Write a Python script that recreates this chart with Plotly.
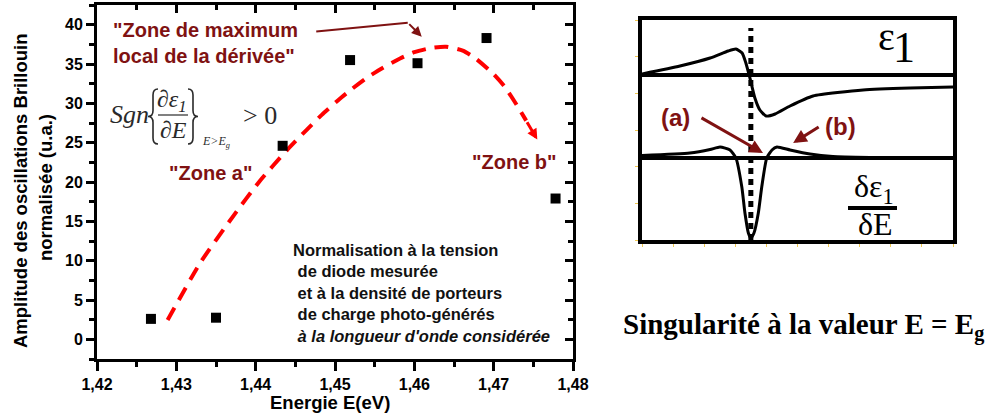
import plotly.graph_objects as go

W, H = 987, 419
SANS = "Liberation Sans, Arial, sans-serif"
SERIF = "Liberation Serif, Times New Roman, serif"
DARKRED = "#7f1212"

# mesures : énergie (eV) et amplitude normalisée (u.a.)
energy = [1.4268, 1.4350, 1.4434, 1.4519, 1.4604, 1.4691, 1.4778]
amplitude = [2.6, 2.75, 24.6, 35.5, 35.1, 38.3, 17.9]

# courbe guide rouge en pointillés
guide_e = [1.4289, 1.4330, 1.4372, 1.4405, 1.4439, 1.4464, 1.4483, 1.4504, 1.4521,
           1.4541, 1.4560, 1.4582, 1.4600, 1.4622, 1.4640, 1.4661, 1.4676, 1.4699,
           1.4714, 1.4729, 1.4741]
guide_a = [2.45, 9.7, 15.7, 20.1, 24.0, 26.6, 28.5, 30.4, 31.8, 33.3, 34.5, 35.7,
           36.5, 37.05, 37.2, 36.7, 35.8, 33.8, 32.1, 29.8, 27.8]
guide_tip = (1.4755, 25.4)

x_range = [1.42, 1.48]
y_range = [-2.5, 42.5]

# schéma de droite (unités arbitraires)
E_G = 3.5
EPS1_ZERO = 16.5
DERIV_ZERO = 8.2
eg_line_v = [0, 21.2]
eps1_e = [0, 1.22, 2.19, 2.77, 3.02, 3.22, 3.34, 3.47, 3.63, 3.79, 3.99, 4.28, 4.76,
          5.50, 7.11, 8.62, 10]
eps1_v = [16.6, 17.4, 18.2, 18.9, 19.1, 18.7, 17.7, 16.2, 14.2, 13.0, 12.4, 12.6,
          13.4, 14.4, 15.0, 15.2, 15.3]
deriv_e = [0, 1.54, 2.19, 2.51, 2.83, 3.02, 3.21, 3.31, 3.42, 3.50, 3.60, 3.74, 3.85,
           4.01, 4.18, 4.34, 4.76, 5.40, 6.14, 7.33]
deriv_v = [8.45, 8.7, 9.05, 9.3, 9.0, 8.2, 5.3, 2.7, 0.7, 0.2, 0.7, 2.7, 5.3, 8.2,
           9.0, 9.3, 9.0, 8.6, 8.35, 8.25]


def px(x):
    return x / W


def py(y):
    return 1 - y / H


def lx(p):  # pixel -> energie (graphe de gauche)
    return 1.42 + (p - 97) / 7940


def ly(p):
    return (340 - p) / 7.875


fig = go.Figure()

# --- graphe de gauche
fig.add_trace(go.Scatter(
    x=guide_e, y=guide_a, mode='lines',
    line=dict(color='#ff0000', width=4, dash='14px,9px', shape='spline', smoothing=0.6),
    hoverinfo='skip',
))
fig.add_trace(go.Scatter(
    x=energy, y=amplitude, mode='markers',
    marker=dict(symbol='square', size=10, color='black'),
))
fig.add_trace(go.Scatter(x=[], y=[], xaxis='x2', yaxis='y2'))

# --- schéma de droite
for base in [EPS1_ZERO, DERIV_ZERO]:
    fig.add_trace(go.Scatter(
        x=[0, 10], y=[base, base], mode='lines',
        line=dict(color='black', width=4), xaxis='x3', yaxis='y3',
    ))
fig.add_trace(go.Scatter(
    x=eps1_e, y=eps1_v, mode='lines',
    line=dict(color='black', width=3, shape='spline', smoothing=0.5),
    xaxis='x3', yaxis='y3',
))
fig.add_trace(go.Scatter(
    x=deriv_e, y=deriv_v, mode='lines',
    line=dict(color='black', width=3, shape='spline', smoothing=0.5),
    xaxis='x3', yaxis='y3',
))
fig.add_trace(go.Scatter(
    x=[E_G, E_G], y=eg_line_v, mode='lines',
    line=dict(color='black', width=5, dash='6px,5px'),
    xaxis='x3', yaxis='y3',
))

tickfont = dict(family=SANS, size=16, color='black', weight='bold')
left_dom_x = [px(97), px(573)]
left_dom_y = [py(359), py(5)]

fig.update_layout(
    width=W, height=H,
    margin=dict(l=0, r=0, t=0, b=0, autoexpand=False),
    paper_bgcolor='white', plot_bgcolor='white',
    showlegend=False,
    separators=', ',
    xaxis=dict(
        domain=left_dom_x, range=x_range, anchor='y',
        tickmode='linear', tick0=1.42, dtick=0.01, tickformat='.2f',
        ticks='outside', ticklen=9, tickwidth=2.5, tickcolor='black',
        minor=dict(dtick=0.005, tick0=1.42, ticks='outside', ticklen=5,
                   tickwidth=2.5, tickcolor='black'),
        showline=True, linewidth=3, linecolor='black', showgrid=False,
        zeroline=False, tickfont=tickfont,
    ),
    yaxis=dict(
        domain=left_dom_y, range=y_range, anchor='x',
        tickmode='linear', tick0=0, dtick=5,
        ticks='outside', ticklen=8, tickwidth=2.5, tickcolor='black',
        minor=dict(dtick=2.5, tick0=0, ticks='outside', ticklen=5,
                   tickwidth=2.5, tickcolor='black'),
        showline=True, linewidth=3, linecolor='black', showgrid=False,
        zeroline=False, tickfont=tickfont,
    ),
    xaxis2=dict(
        domain=left_dom_x, range=x_range, anchor='y2', overlaying='x', side='top',
        tickmode='linear', tick0=1.42, dtick=0.01, showticklabels=False,
        ticks='inside', ticklen=8, tickwidth=2.5, tickcolor='black',
        minor=dict(dtick=0.005, tick0=1.42, ticks='inside', ticklen=5,
                   tickwidth=2.5, tickcolor='black'),
        showline=True, linewidth=3, linecolor='black', showgrid=False, zeroline=False,
    ),
    yaxis2=dict(
        domain=left_dom_y, range=y_range, anchor='x2', overlaying='y', side='right',
        tickmode='linear', tick0=0, dtick=5, showticklabels=False,
        ticks='inside', ticklen=8, tickwidth=2.5, tickcolor='black',
        minor=dict(dtick=2.5, tick0=0, ticks='inside', ticklen=5,
                   tickwidth=2.5, tickcolor='black'),
        showline=True, linewidth=3, linecolor='black', showgrid=False, zeroline=False,
    ),
    xaxis3=dict(
        domain=[px(642), px(953)], range=[0, 10], anchor='y3',
        tickmode='linear', tick0=0, dtick=1, ticks='outside', ticklen=3,
        tickwidth=1, tickcolor='#f0c850', showticklabels=False,
        showline=True, mirror=True, linewidth=4, linecolor='black',
        showgrid=False, zeroline=False,
    ),
    yaxis3=dict(
        domain=[py(240), py(20)], range=[0, 22], anchor='x3',
        tickmode='linear', tick0=0, dtick=22 / 6, ticks='outside', ticklen=3,
        tickwidth=1, tickcolor='#f0c850', showticklabels=False,
        showline=True, mirror=True, linewidth=4, linecolor='black',
        showgrid=False, zeroline=False,
    ),
)

ann = []


def text(x, y, t, size, family=SANS, color='black', bold=False, italic=False,
         xanchor='center', yanchor='middle', align='center', angle=0):
    ann.append(dict(
        x=px(x), y=py(y), xref='paper', yref='paper', text=t, showarrow=False,
        xanchor=xanchor, yanchor=yanchor, align=align, textangle=angle,
        font=dict(family=family, size=size, color=color,
                  weight='bold' if bold else 'normal',
                  style='italic' if italic else 'normal'),
    ))


# titres des axes
text(20, 191, 'Amplitude des oscillations Brillouin', 18.5, bold=True, angle=-90)
text(45, 188, 'normalisée (u.a.)', 18.5, bold=True, angle=-90)
text(330, 402, 'Energie E(eV)', 18.5, bold=True)

# annotations du graphe
text(111, 43, '"Zone de maximum<br>local de la dérivée"', 20, color=DARKRED,
     bold=True, xanchor='left', align='left')
text(210, 173, '"Zone a"', 20, color=DARKRED, bold=True)
text(514, 162, '"Zone b"', 20, color=DARKRED, bold=True)
text(291, 293,
     'Normalisation à la tension<br>\u00a0de diode mesurée<br>'
     '\u00a0et à la densité de porteurs<br>\u00a0de charge photo-générés<br>'
     '\u00a0<i>à la longueur d\'onde considérée</i>',
     16.5, color='#111111', bold=True, xanchor='left', align='left')

# formule Sgn{dε1/dE} > 0
GREY = '#2a2a2a'
text(108, 114, 'Sgn', 26, family=SERIF, color=GREY, italic=True, xanchor='left')
text(172, 101, '∂ε<sub>1</sub>', 24, family=SERIF, color=GREY, italic=True)
text(173, 130, '∂E', 24, family=SERIF, color=GREY, italic=True)
text(200, 142, 'E&gt;E<sub>g</sub>', 12, family=SERIF, color=GREY, italic=True,
     xanchor='left')
text(241, 116, '&gt; 0', 26, family=SERIF, color=GREY, xanchor='left')

# schéma de droite : textes
text(886, 36, 'ε', 40, family=SERIF)
text(904, 47, '1', 44, family=SERIF)
text(874, 188, 'δε<sub>1</sub>', 32, family=SERIF)
text(875, 224, 'δE', 32, family=SERIF)
text(675, 117, '(a)', 24, color=DARKRED, bold=True)
text(840, 127, '(b)', 24, color=DARKRED, bold=True)
text(621, 326, 'Singularité à la valeur E = E<sub>g</sub>', 29, family=SERIF,
     bold=True, xanchor='left')

# flèches
ann.append(dict(x=lx(408), y=ly(23), xref='x', yref='y', ax=315 - 408, ay=32 - 23,
                text='', showarrow=True, arrowhead=0, arrowwidth=2, arrowcolor=DARKRED))
ann.append(dict(x=lx(422), y=ly(37), xref='x', yref='y', ax=408 - 422, ay=23 - 37,
                text='', showarrow=True, arrowhead=2, arrowsize=1, arrowwidth=2,
                arrowcolor=DARKRED))
ann.append(dict(x=guide_tip[0], y=guide_tip[1], xref='x', yref='y',
                ax=guide_e[-1], ay=guide_a[-1], axref='x', ayref='y',
                text='', showarrow=True, arrowhead=2, arrowsize=0.7, arrowwidth=3,
                arrowcolor='#ff0000'))
ann.append(dict(x=3.89, y=8.7, xref='x3', yref='y3', ax=-63, ay=-36, text='',
                showarrow=True, arrowhead=2, arrowsize=0.9, arrowwidth=3,
                arrowcolor=DARKRED))
ann.append(dict(x=4.86, y=9.7, xref='x3', yref='y3', ax=27, ay=-17, text='',
                showarrow=True, arrowhead=2, arrowsize=0.9, arrowwidth=3,
                arrowcolor=DARKRED))
ann.append(dict(x=E_G, y=-0.8, xref='x3', yref='y3', ax=0, ay=54, text='',
                showarrow=True, arrowhead=2, arrowsize=0.72, arrowwidth=5,
                arrowcolor='black'))

fig.update_layout(annotations=ann)


def brace(x_tip, x_end, y_top, y_bot, a=6):
    xm = (x_tip + x_end) / 2
    ym = (y_top + y_bot) / 2
    pts = [
        ('M', [(x_end, y_top)]),
        ('Q', [(xm, y_top), (xm, y_top + a)]),
        ('L', [(xm, ym - a)]),
        ('Q', [(xm, ym), (x_tip, ym)]),
        ('Q', [(xm, ym), (xm, ym + a)]),
        ('L', [(xm, y_bot - a)]),
        ('Q', [(xm, y_bot), (x_end, y_bot)]),
    ]
    s = ''
    for cmd, ps in pts:
        s += cmd + ' '.join(f'{px(x):.5f},{py(y):.5f}' for x, y in ps) + ' '
    return s


shapes = [
    dict(type='path', path=brace(148, 158, 89, 144), xref='paper', yref='paper',
         line=dict(color=GREY, width=1.6)),
    dict(type='path', path=brace(198, 188, 89, 144), xref='paper', yref='paper',
         line=dict(color=GREY, width=1.6)),
    dict(type='line', x0=px(158), x1=px(188), y0=py(115), y1=py(115),
         xref='paper', yref='paper', line=dict(color=GREY, width=1.2)),
    dict(type='line', x0=px(848), x1=px(897), y0=py(208), y1=py(208),
         xref='paper', yref='paper', line=dict(color='black', width=4)),
]
fig.update_layout(shapes=shapes)

fig.write_html("out.html", config={'displayModeBar': False},
               post_script="document.body.style.margin='0';")
